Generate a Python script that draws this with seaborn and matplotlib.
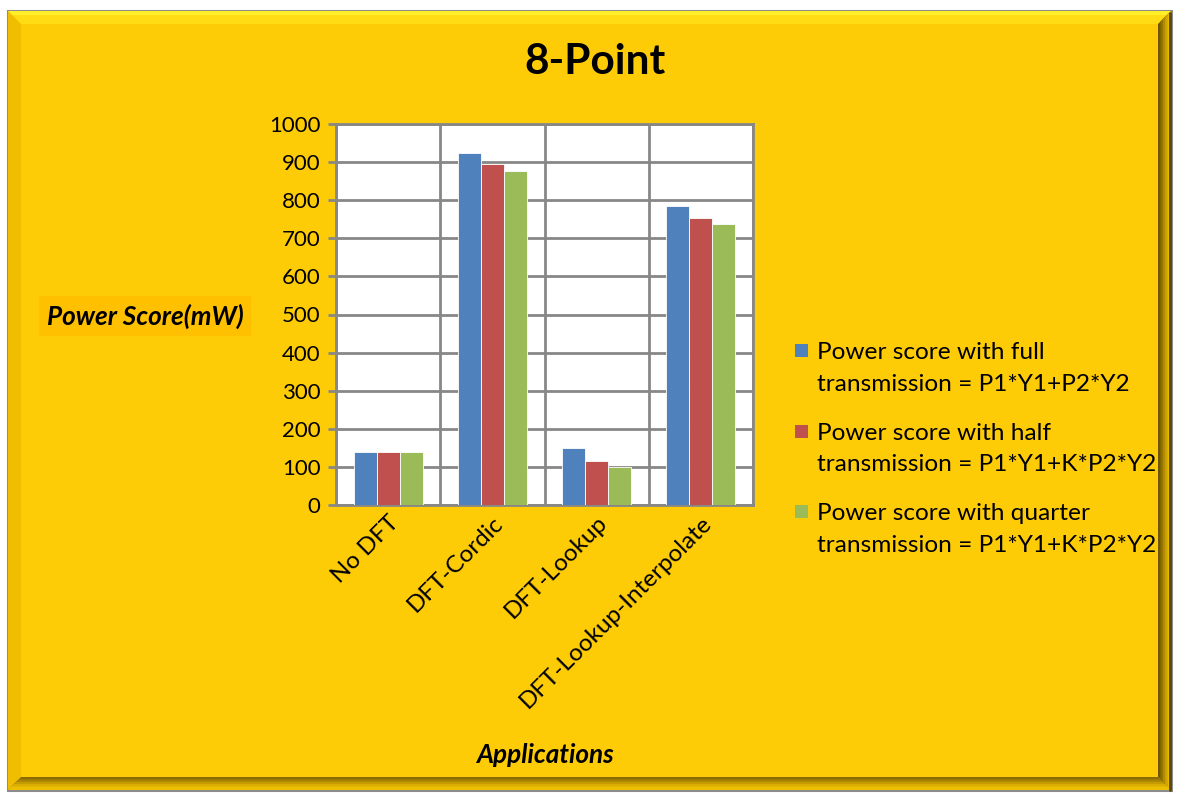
import matplotlib
matplotlib.use("Agg")
import matplotlib.pyplot as plt
from matplotlib.patches import Rectangle, Polygon
import seaborn as sns
import pandas as pd
import numpy as np

# ---- data ----
categories = ["No DFT", "DFT-Cordic", "DFT-Lookup", "DFT-Lookup-Interpolate"]
series_names = [
    "Power score with full\ntransmission = P1*Y1+P2*Y2",
    "Power score with half\ntransmission = P1*Y1+K*P2*Y2",
    "Power score with quarter\ntransmission = P1*Y1+K*P2*Y2",
]
full_tx = [140, 925, 149, 786]
half_tx = [140, 894, 115, 752]
quarter_tx = [140, 876, 100, 737]
y_ticks = [0, 100, 200, 300, 400, 500, 600, 700, 800, 900, 1000]

colors = ["#4F81BD", "#C0504D", "#9BBB59"]
GOLD = "#FECC06"
GRID = "#878787"

df = pd.DataFrame({
    "Applications": categories * 3,
    "Series": [series_names[0]] * 4 + [series_names[1]] * 4 + [series_names[2]] * 4,
    "Power": full_tx + half_tx + quarter_tx,
})

sns.set_theme(style="white")
plt.rcParams["font.family"] = ["Lato", "DejaVu Sans"]
for key in ["text.color", "axes.labelcolor", "xtick.color", "ytick.color"]:
    plt.rcParams[key] = "black"

W, H = 1178, 797
fig = plt.figure(figsize=(W / 100, H / 100), dpi=100)
fig.patch.set_facecolor("white")

# ---- beveled gold frame drawn in pixel coordinates ----
bg = fig.add_axes([0, 0, 1, 1], zorder=-5)
bg.set_xlim(0, W)
bg.set_ylim(H, 0)
bg.axis("off")
x0, y0, x1, y1 = 8, 11, 1171, 790
b = 13
bg.add_patch(Rectangle((x0, y0), x1 - x0, y1 - y0, facecolor=GOLD,
                       edgecolor="#8C8C8C", linewidth=2.2))
# top bevel (light)
bg.add_patch(Polygon([(x0, y0), (x1, y0), (x1 - b, y0 + b), (x0 + b, y0 + b)],
                     closed=True, facecolor="#FFDC14", edgecolor="none"))
bg.add_patch(Polygon([(x0, y0), (x1, y0), (x1 - 3, y0 + 4), (x0 + 3, y0 + 4)],
                     closed=True, facecolor="#FFEE2A", edgecolor="none"))
# left bevel
bg.add_patch(Polygon([(x0, y0), (x0 + b, y0 + b), (x0 + b, y1 - b), (x0, y1)],
                     closed=True, facecolor="#F0BE00", edgecolor="none"))
# right bevel (dark gradient)
for i, c in enumerate(["#6E5600", "#8F7000", "#B08A00", "#D0A400", "#E6B800"]):
    w = b - i * 2.4
    bg.add_patch(Polygon([(x1, y0), (x1, y1), (x1 - w, y1 - w), (x1 - w, y0 + w)],
                         closed=True, facecolor=c, edgecolor="none"))
# bottom bevel (dark gradient)
for i, c in enumerate(["#8A6C00", "#A88400", "#C49C00", "#DDB000", "#ECC000"]):
    w = b - i * 2.4
    bg.add_patch(Polygon([(x0, y1), (x1, y1), (x1 - w, y1 - w), (x0 + w, y1 - w)],
                         closed=True, facecolor=c, edgecolor="none"))
bg.plot([x1 - 1, x1 - 1], [y0 + 2, y1], color="#5A4600", lw=2)

# ---- plot area ----
ax = fig.add_axes([336 / W, 1 - 505 / H, (753 - 336) / W, (505 - 124) / H])
sns.barplot(data=df, x="Applications", y="Power", hue="Series",
            hue_order=series_names, order=categories, palette=colors,
            saturation=1, width=0.66, ax=ax, legend=False,
            edgecolor="white", linewidth=0.6, zorder=3)
ax.set_facecolor("white")
ax.set_ylim(0, 1000)
ax.set_xlim(-0.5, len(categories) - 0.5)
ax.set_yticks(y_ticks)
ax.set_yticklabels([str(t) for t in y_ticks], fontsize=16)
ax.yaxis.grid(True, color=GRID, linewidth=2, zorder=0)
ax.set_xticks(np.arange(len(categories)))
ax.set_xticklabels(categories, rotation=45, ha="right", rotation_mode="anchor",
                   fontsize=17.5)
ax.set_xticks(np.arange(-0.5, len(categories)), minor=True)
ax.xaxis.grid(True, which="minor", color=GRID, linewidth=2, zorder=0)
ax.tick_params(axis="x", which="major", length=0, pad=5)
ax.tick_params(axis="x", which="minor", length=6, width=2, color=GRID, direction="out")
ax.tick_params(axis="y", length=6, width=2, color=GRID, direction="out", pad=5, left=True)
ax.set_axisbelow(True)
for s in ax.spines.values():
    s.set_color(GRID)
    s.set_linewidth(2)
    s.set_visible(True)

ax.set_xlabel("Applications", fontsize=18.8, fontweight="bold", style="italic")
ax.xaxis.set_label_coords((545 - 336) / (753 - 336), -(743 - 505) / (505 - 124))
ax.set_ylabel("Power Score(mW)", fontsize=18.8, fontweight="bold", style="italic",
              rotation=0, ha="center", va="center",
              bbox=dict(boxstyle="square,pad=0.3", facecolor="#FFC000", edgecolor="none"))
ax.yaxis.set_label_coords((145 - 336) / (753 - 336), (505 - 316) / (505 - 124))

# ---- title ----
fig.text(595 / W, 1 - 62 / H, "8-Point", ha="center", va="center",
         fontsize=30.5, fontweight="bold")

# ---- legend ----
for i, (name, col) in enumerate(zip(series_names, colors)):
    ytop = 344 + i * 80.5
    bg.add_patch(Rectangle((795, ytop), 13, 13, facecolor=col, edgecolor="none"))
    bg.text(817, ytop - 2, name, ha="left", va="top", fontsize=17.6,
            linespacing=1.62)

fig.savefig("out.png", dpi=100, facecolor=fig.get_facecolor())
